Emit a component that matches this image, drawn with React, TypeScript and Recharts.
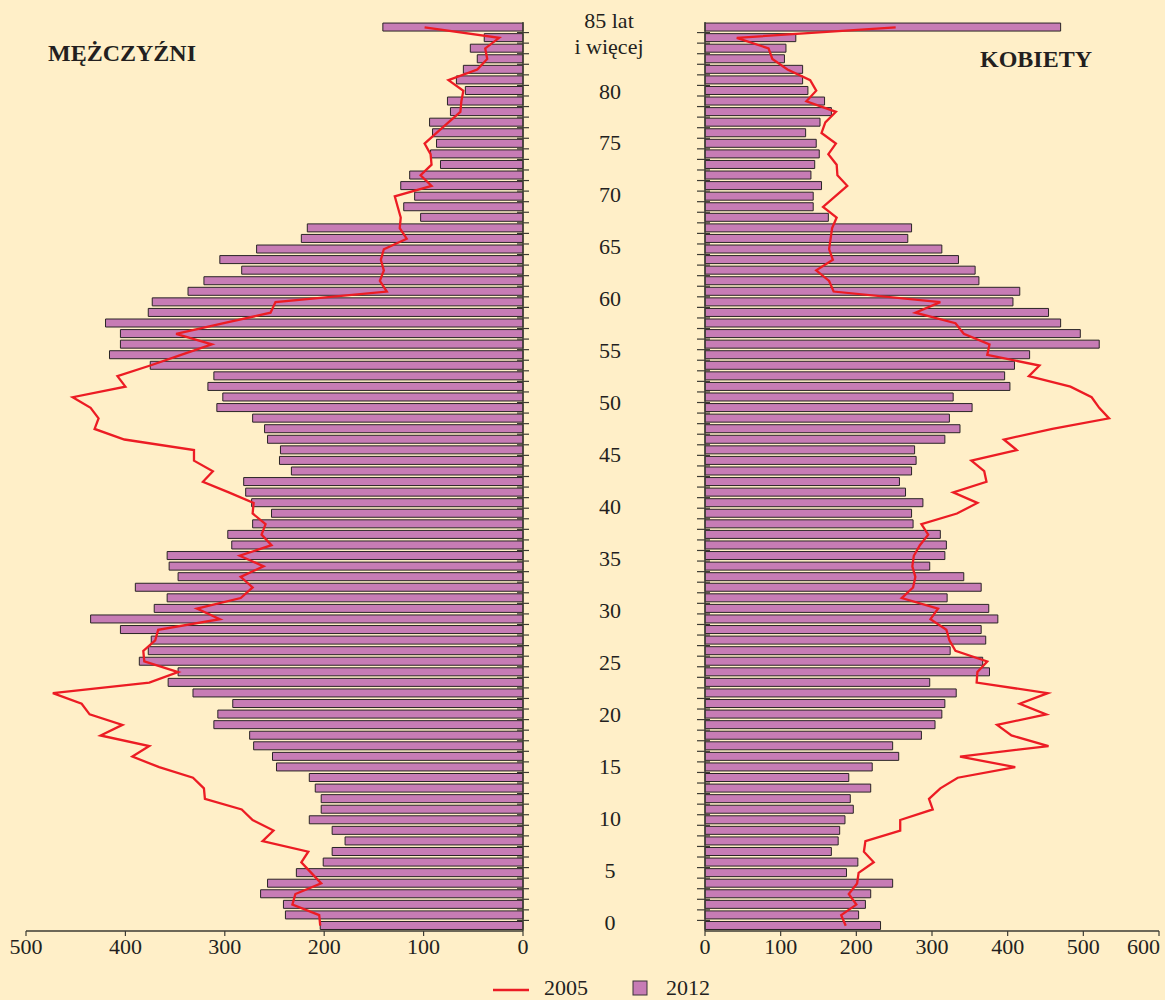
import React from 'react';
import { ComposedChart, Bar, Line, XAxis, YAxis } from 'recharts';

// ages 0..85 (85 = "85 lat i więcej")
const ages = [
  0, 1, 2, 3, 4, 5, 6, 7, 8, 9, 10, 11, 12, 13, 14, 15, 16, 17, 18, 19, 20, 21, 22, 23, 24, 25, 26, 27, 28, 29,
  30, 31, 32, 33, 34, 35, 36, 37, 38, 39, 40, 41, 42, 43, 44, 45, 46, 47, 48, 49, 50, 51, 52, 53, 54, 55, 56, 57, 58, 59,
  60, 61, 62, 63, 64, 65, 66, 67, 68, 69, 70, 71, 72, 73, 74, 75, 76, 77, 78, 79, 80, 81, 82, 83, 84, 85,
];

// men, thousands
const men2012 = [
  204, 239, 241, 264, 257, 228, 201, 192, 179, 192, 215, 203, 203, 209, 215, 248, 252, 271, 275, 311, 307, 292, 332, 357, 347, 386, 377, 374, 405, 435,
  371, 358, 390, 347, 356, 358, 293, 297, 272, 253, 273, 279, 281, 233, 245, 244, 257, 260, 272, 308, 302, 317, 311, 375, 416, 405, 405, 420, 377, 373,
  337, 321, 283, 305, 268, 223, 217, 103, 120, 109, 123, 114, 83, 93, 87, 91, 94, 73, 76, 58, 67, 60, 46, 53, 39, 141,
];
const men2005 = [
  204, 205, 232, 229, 203, 213, 223, 216, 262, 251, 272, 283, 320, 321, 332, 366, 393, 376, 425, 403, 436, 444, 473, 376, 347, 381, 382, 370, 367, 305,
  328, 284, 272, 284, 261, 285, 253, 263, 259, 272, 271, 296, 322, 312, 331, 331, 401, 431, 427, 435, 453, 400, 408, 375, 344, 313, 349, 301, 254, 249,
  137, 144, 140, 143, 140, 117, 124, 123, 126, 129, 92, 103, 92, 93, 99, 87, 75, 63, 62, 60, 75, 46, 36, 38, 24, 99,
];

// women, thousands
const women2012 = [
  232, 203, 212, 219, 248, 187, 202, 167, 176, 178, 185, 196, 192, 219, 190, 221, 256, 248, 286, 304, 313, 317, 332, 297, 376, 367, 324, 371, 365, 387,
  375, 320, 365, 342, 297, 317, 319, 311, 275, 273, 288, 265, 257, 273, 279, 277, 317, 337, 323, 353, 328, 403, 396, 409, 429, 521, 496, 470, 454, 407,
  416, 362, 357, 335, 313, 268, 273, 163, 143, 143, 154, 140, 145, 151, 147, 133, 152, 167, 158, 136, 129, 129, 105, 107, 120, 470,
];
const women2005 = [
  186, 180, 200, 190, 201, 203, 223, 210, 212, 258, 258, 301, 296, 311, 334, 410, 337, 454, 405, 386, 451, 416, 453, 359, 360, 373, 331, 323, 319, 298,
  308, 260, 275, 278, 274, 276, 284, 295, 286, 333, 360, 328, 372, 369, 352, 412, 395, 459, 534, 521, 511, 483, 428, 442, 373, 376, 342, 331, 278, 311,
  170, 164, 147, 169, 164, 166, 168, 174, 156, 172, 188, 175, 174, 163, 173, 154, 159, 173, 134, 147, 139, 109, 89, 84, 42, 252,
];

const menTicks = [0, 100, 200, 300, 400, 500];
const womenTicks = [0, 100, 200, 300, 400, 500, 600];

const BG = '#FFEFC8';
const BAR = '#C77CB5';
const LINE = '#EC1C24';
const AXIS = '#3d3b33';
const TEXT = '#231f20';
const SERIF = '"Liberation Serif", "Times New Roman", serif';

const PLOT_TOP = 22;
const PLOT_BOTTOM = 931;
const BAND = (PLOT_BOTTOM - PLOT_TOP) / ages.length;

const data = ages.map((age, i) => ({
  age,
  m2012: men2012[i],
  m2005: men2005[i],
  w2012: women2012[i],
  w2005: women2005[i],
}));

const tickFont = { fontSize: 22, fill: TEXT, fontFamily: SERIF };

// middle column: tick marks on the men axis + age labels
const MenAgeTick = (props: any) => {
  const { x, y, payload } = props;
  const age = payload.value as number;
  const top = y - BAND / 2;
  let label: React.ReactNode = null;
  if (age === 85) {
    label = (
      <g>
        <text x={x + 86} y={y + 0.5} textAnchor="middle" style={tickFont} fill={TEXT}>85 lat</text>
        <text x={x + 86} y={y + 27} textAnchor="middle" style={tickFont} fill={TEXT}>i więcej</text>
      </g>
    );
  } else if (age % 5 === 0) {
    label = (
      <text x={x + 87} y={y + 4 + age * 0.18} textAnchor="middle" style={tickFont} fill={TEXT}>
        {age}
      </text>
    );
  }
  return (
    <g>
      {age !== 85 && <line x1={x - 6} x2={x + 6} y1={top} y2={top} stroke={AXIS} strokeWidth={1.2} />}
      {label}
    </g>
  );
};

const WomenAgeTick = (props: any) => {
  const { x, y, payload } = props;
  const age = payload.value as number;
  const top = y - BAND / 2;
  if (age === 85) return <g />;
  return <line x1={x - 8} x2={x + 5} y1={top} y2={top} stroke={AXIS} strokeWidth={1.2} />;
};

// last label (600) sits against the right edge, so anchor it at its end
const WomenValueTick = (props: any) => {
  const { x, y, payload } = props;
  const last = payload.value === womenTicks[womenTicks.length - 1];
  return (
    <text
      x={last ? x + 1 : x}
      y={y}
      dy="0.71em"
      textAnchor={last ? 'end' : 'middle'}
      style={tickFont}
      fill={TEXT}
    >
      {payload.value}
    </text>
  );
};

const axisLine = { stroke: AXIS, strokeWidth: 1.5 };
const tickLine = { stroke: AXIS, strokeWidth: 1.2 };

export default function App() {
  return (
    <div
      style={{
        position: 'absolute',
        left: 0,
        top: 0,
        width: 1165,
        height: 1000,
        background: BG,
        overflow: 'hidden',
        fontFamily: SERIF,
      }}
    >
      <div style={{ position: 'absolute', left: 0, top: 0 }}>
        <ComposedChart
          width={705}
          height={1000}
          data={data}
          layout="vertical"
          margin={{ top: PLOT_TOP, right: 0, left: 26, bottom: 0 }}
          barCategoryGap="10%"
        >
          <XAxis
            type="number"
            domain={[0, 500]}
            ticks={menTicks}
            reversed
            height={1000 - PLOT_BOTTOM}
            tick={tickFont}
            tickSize={5}
            tickMargin={2}
            axisLine={axisLine}
            tickLine={tickLine}
            interval={0}
          />
          <XAxis
            xAxisId="top"
            type="number"
            orientation="top"
            domain={[0, 500]}
            reversed
            height={0}
            tick={false}
            tickLine={false}
            axisLine={axisLine}
          />
          <YAxis
            type="category"
            dataKey="age"
            orientation="right"
            reversed
            width={182}
            interval={0}
            tickSize={0}
            tickMargin={0}
            tickLine={false}
            axisLine={axisLine}
            tick={<MenAgeTick />}
          />
          <YAxis
            yAxisId="side"
            type="category"
            dataKey="age"
            orientation="left"
            reversed
            width={0}
            tick={false}
            tickLine={false}
            axisLine={axisLine}
          />
          <Bar dataKey="m2012" fill={BAR} stroke="#2a2526" strokeWidth={1} isAnimationActive={false} />
          <Line
            dataKey="m2005"
            type="linear"
            stroke={LINE}
            strokeWidth={2.3}
            dot={false}
            isAnimationActive={false}
          />
        </ComposedChart>
      </div>

      <div style={{ position: 'absolute', left: 690, top: 0 }}>
        <ComposedChart
          width={475}
          height={1000}
          data={data}
          layout="vertical"
          margin={{ top: PLOT_TOP, right: 6, left: 0, bottom: 0 }}
          barCategoryGap="10%"
        >
          <XAxis
            type="number"
            domain={[0, 600]}
            ticks={womenTicks}
            height={1000 - PLOT_BOTTOM}
            tick={<WomenValueTick />}
            tickSize={5}
            tickMargin={2}
            axisLine={axisLine}
            tickLine={tickLine}
            interval={0}
          />
          <XAxis
            xAxisId="top"
            type="number"
            orientation="top"
            domain={[0, 600]}
            height={0}
            tick={false}
            tickLine={false}
            axisLine={axisLine}
          />
          <YAxis
            type="category"
            dataKey="age"
            orientation="left"
            reversed
            width={15}
            interval={0}
            tickSize={0}
            tickMargin={0}
            tickLine={false}
            axisLine={axisLine}
            tick={<WomenAgeTick />}
          />
          <YAxis
            yAxisId="side"
            type="category"
            dataKey="age"
            orientation="right"
            reversed
            width={0}
            tick={false}
            tickLine={false}
            axisLine={axisLine}
          />
          <Bar dataKey="w2012" fill={BAR} stroke="#2a2526" strokeWidth={1} isAnimationActive={false} />
          <Line
            dataKey="w2005"
            type="linear"
            stroke={LINE}
            strokeWidth={2.3}
            dot={false}
            isAnimationActive={false}
          />
        </ComposedChart>
      </div>

      <div
        style={{
          position: 'absolute',
          left: 48,
          top: 41,
          fontSize: 24,
          lineHeight: '24px',
          fontWeight: 'bold',
          color: TEXT,
          whiteSpace: 'nowrap',
        }}
      >
        MĘŻCZYŹNI
      </div>
      <div
        style={{
          position: 'absolute',
          left: 980,
          top: 47,
          fontSize: 24,
          lineHeight: '24px',
          fontWeight: 'bold',
          color: TEXT,
          whiteSpace: 'nowrap',
        }}
      >
        KOBIETY
      </div>

      <svg style={{ position: 'absolute', left: 0, top: 960 }} width={1165} height={40}>
        <line x1={493} x2={529} y1={30} y2={30} stroke={LINE} strokeWidth={2.5} />
        <text x={544} y={35} style={tickFont} fill={TEXT}>2005</text>
        <rect x={633} y={21} width={14} height={14} fill={BAR} stroke="#3a3436" strokeWidth={1} />
        <text x={666} y={35} style={tickFont} fill={TEXT}>2012</text>
      </svg>
    </div>
  );
}
